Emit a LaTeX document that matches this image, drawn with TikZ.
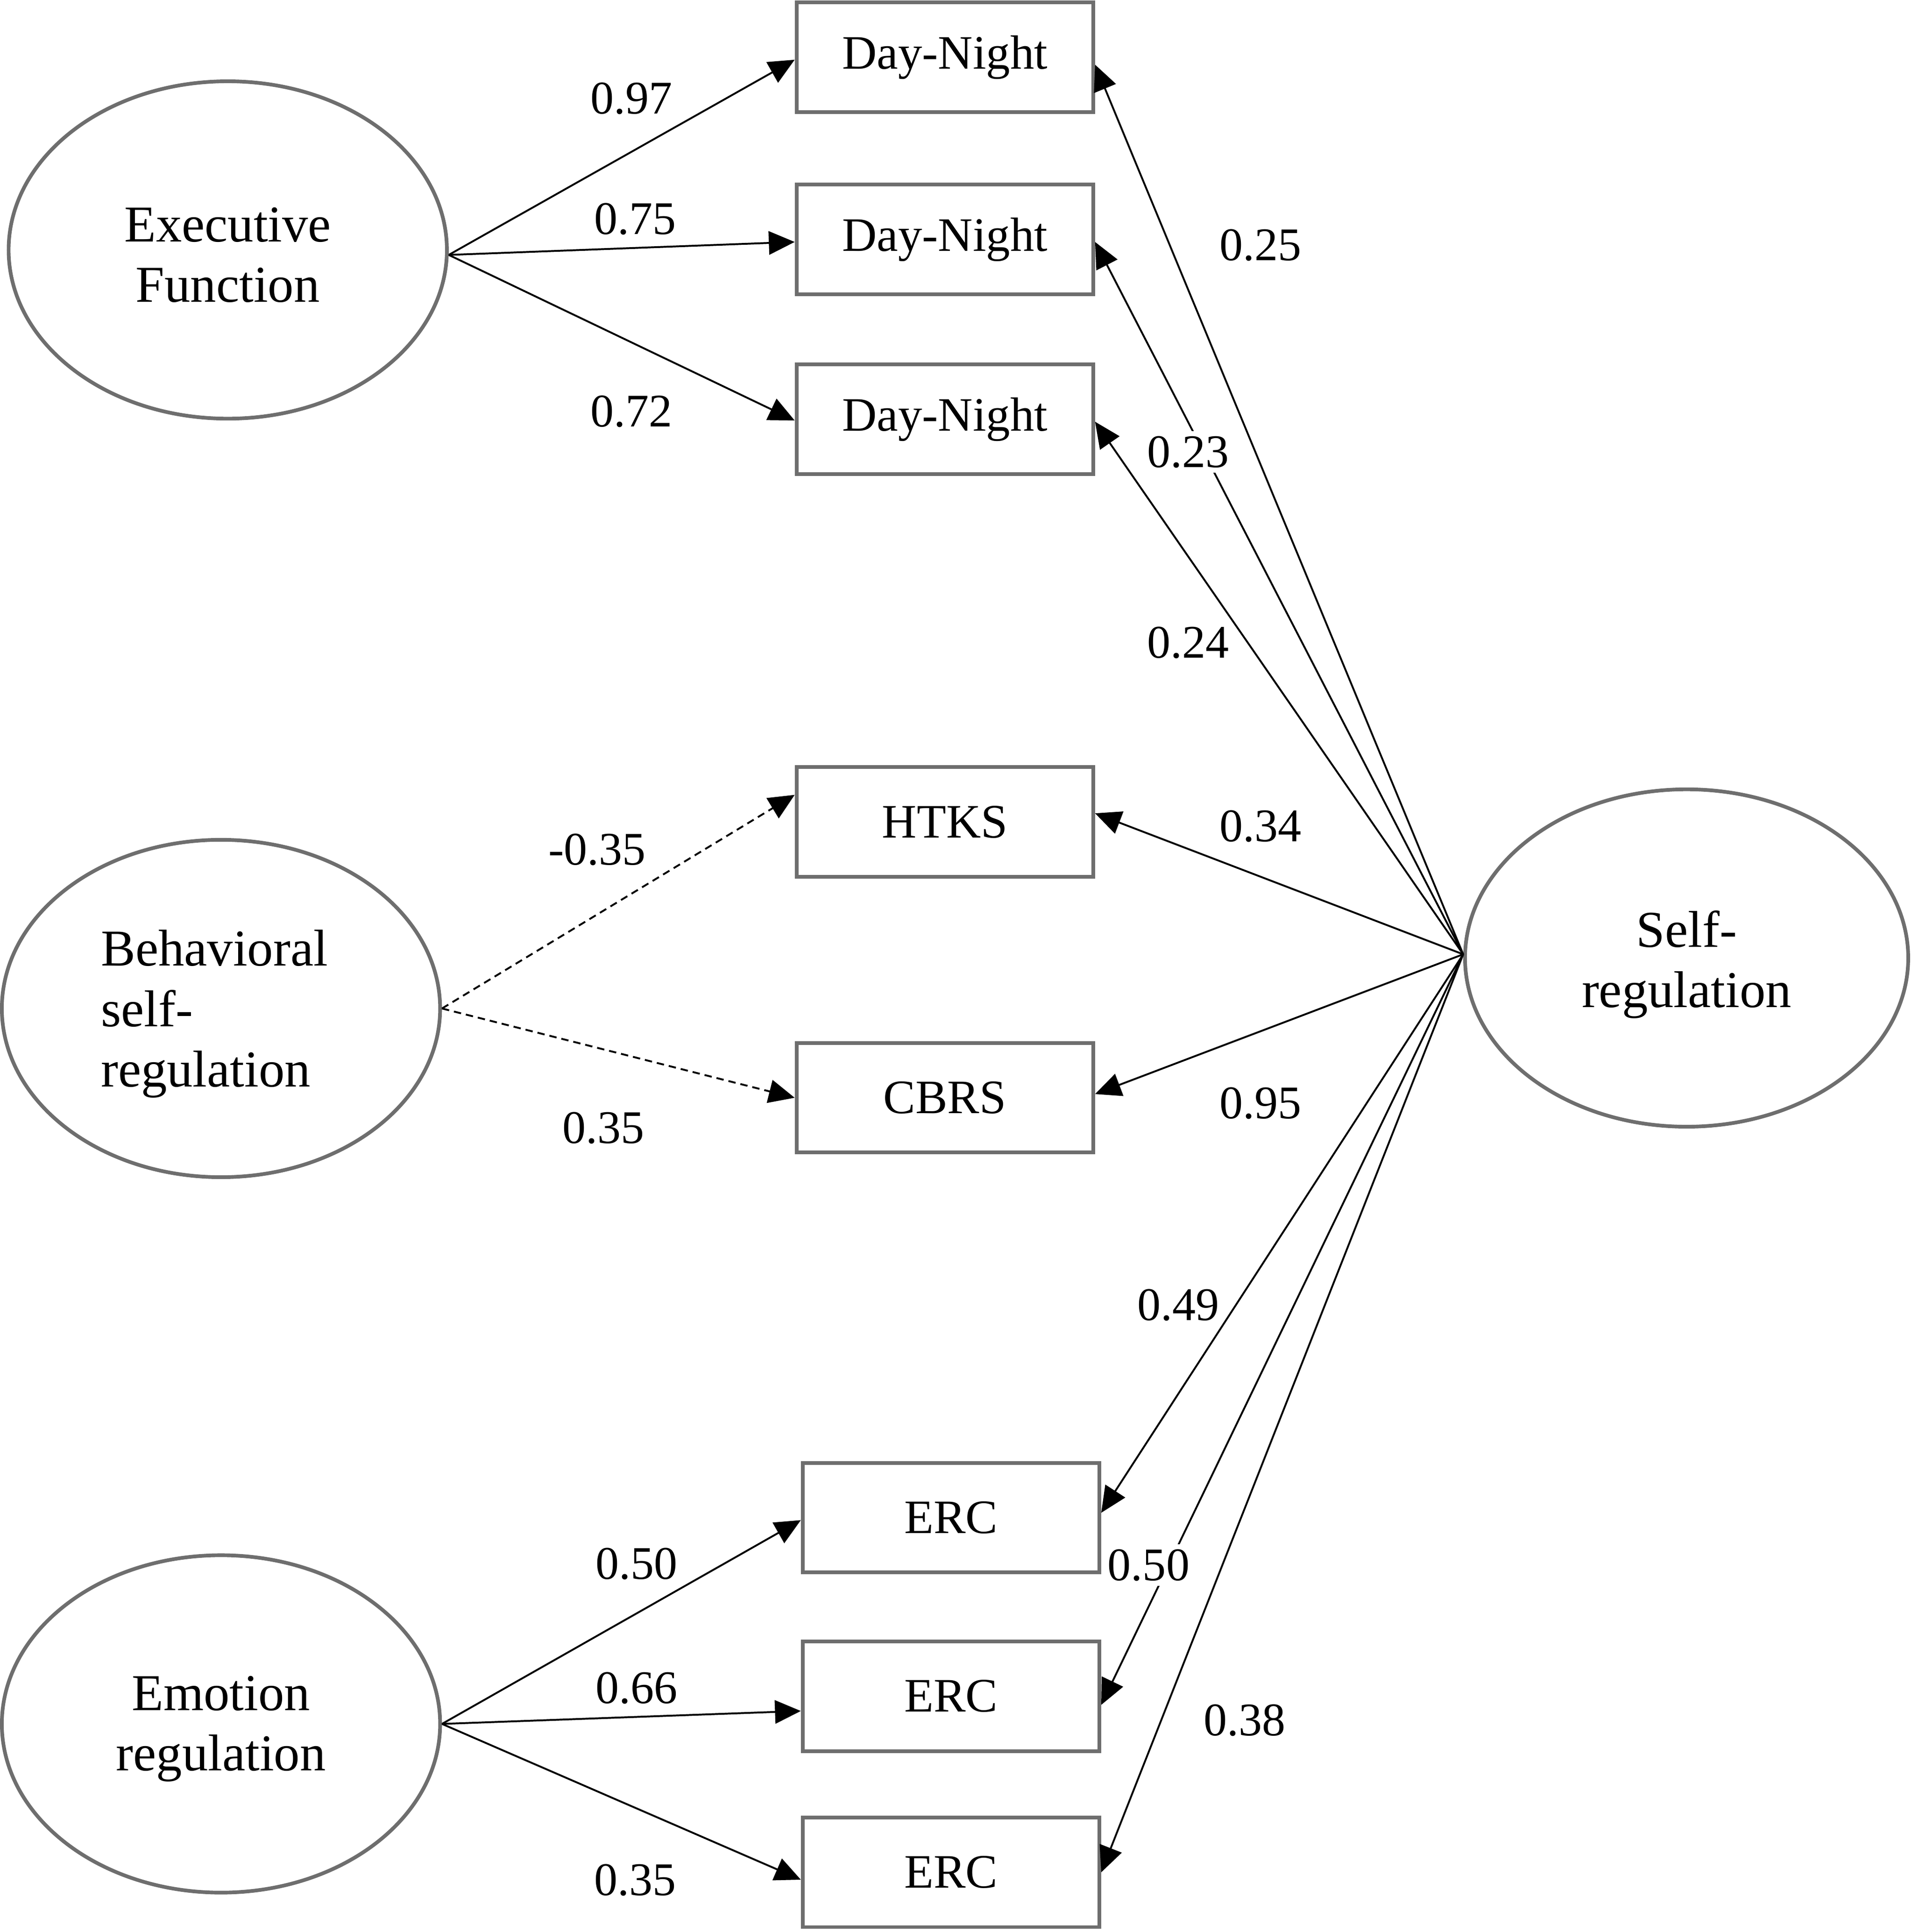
\documentclass[tikz,border=0pt]{standalone}
\usepackage{fontspec}
\setmainfont{Liberation Serif}
\usetikzlibrary{shapes.geometric,arrows.meta,calc}
\definecolor{bordergray}{RGB}{110,110,110}
\begin{document}
\begin{tikzpicture}[x=1pt,y=-1pt,
  latent/.style={ellipse,draw=bordergray,line width=3pt,minimum width=356pt,minimum height=274pt,inner sep=0pt,align=center,font=\fontsize{42}{49}\selectfont},
  obs/.style={rectangle,draw=bordergray,line width=3pt,minimum width=241pt,minimum height=89pt,inner sep=0pt,font=\fontsize{39}{46}\selectfont},
  conn/.style={line width=1.5pt,-{Triangle[length=21pt,width=19pt]}},
  dconn/.style={conn,dash pattern=on 6pt off 4pt},
  lab/.style={font=\fontsize{38}{44}\selectfont,inner sep=2pt},
  wlab/.style={lab,fill=white,inner sep=4pt}
]
\useasboundingbox (0,0) rectangle (1553,1569);

% latent variables
\node[latent] (ef) at (185,203) {\rule{0pt}{36pt}Executive\\Function};
\node[latent,text width=195pt,align=left] (bsr) at (179.5,819) {\rule{0pt}{38pt}Behavioral\\self-\\regulation};
\node[latent] (er) at (179.5,1400) {\rule{0pt}{36pt}Emotion\\regulation};
\node[latent,minimum width=360pt] (sr) at (1370,778) {\rule{0pt}{40pt}Self-\\regulation};

% observed variables
\node[obs] (dn1) at (767.5,46.5) {Day-Night};
\node[obs] (dn2) at (767.5,194.5) {Day-Night};
\node[obs] (dn3) at (767.5,340.5) {Day-Night};
\node[obs] (htks) at (767.5,667.5) {HTKS};
\node[obs] (cbrs) at (767.5,891.5) {CBRS};
\node[obs] (erc1) at (772.5,1232.5) {ERC};
\node[obs] (erc2) at (772.5,1377.5) {ERC};
\node[obs] (erc3) at (772.5,1520.5) {ERC};

\coordinate (efo) at ($(ef.east)+(0,4)$);
\coordinate (sro) at ($(sr.west)+(0,-3)$);

% executive function paths
\draw[conn] (efo) -- ($(dn1.west)+(0,2)$);
\draw[conn] (efo) -- ($(dn2.west)+(0,2)$);
\draw[conn] (efo) -- ($(dn3.west)+(0,1)$);

% behavioral self-regulation paths
\draw[dconn] (bsr.east) -- ($(htks.west)+(0,-22)$);
\draw[dconn] (bsr.east) -- (cbrs.west);

% emotion regulation paths
\draw[conn] (er.east) -- ($(erc1.west)+(0,2)$);
\draw[conn] (er.east) -- ($(erc2.west)+(0,12)$);
\draw[conn] (er.east) -- ($(erc3.west)+(0,6)$);

% self-regulation paths
\draw[conn] (sro) -- ($(dn1.east)+(0,6)$);
\draw[conn] (sro) -- ($(dn2.east)+(0,2)$);
\draw[conn] (sro) -- ($(dn3.east)+(0,2)$);
\draw[conn] (sro) -- ($(htks.east)+(0,-7)$);
\draw[conn] (sro) -- ($(cbrs.east)+(0,-3)$);
\draw[conn] (sro) -- ($(erc1.east)+(0,-4)$);
\draw[conn] (sro) -- ($(erc2.east)+(0,7)$);
\draw[conn] (sro) -- (erc3.east);

% labels
\node[lab] (l1) at (513,80) {0.97};
\node[lab] (l2) at (516,178) {0.75};
\node[lab] (l3) at (513,334) {0.72};
\node[lab] (l4) at (485,690) {-0.35};
\node[lab] (l5) at (490,916) {0.35};
\node[lab] (l6) at (517,1270) {0.50};
\node[lab] (l7) at (517,1371) {0.66};
\node[lab] (l8) at (516,1527) {0.35};
\node[lab] (l9) at (1024,199) {0.25};
\node[wlab] (l10) at (965,367) {0.23};
\node[lab] (l11) at (965,522) {0.24};
\node[lab] (l12) at (1024,671) {0.34};
\node[lab] (l13) at (1024,896) {0.95};
\node[lab] (l14) at (957,1060) {0.49};
\node[wlab] (l15) at (933,1271) {0.50};
\node[lab] (l16) at (1011,1397) {0.38};
\end{tikzpicture}
\end{document}
